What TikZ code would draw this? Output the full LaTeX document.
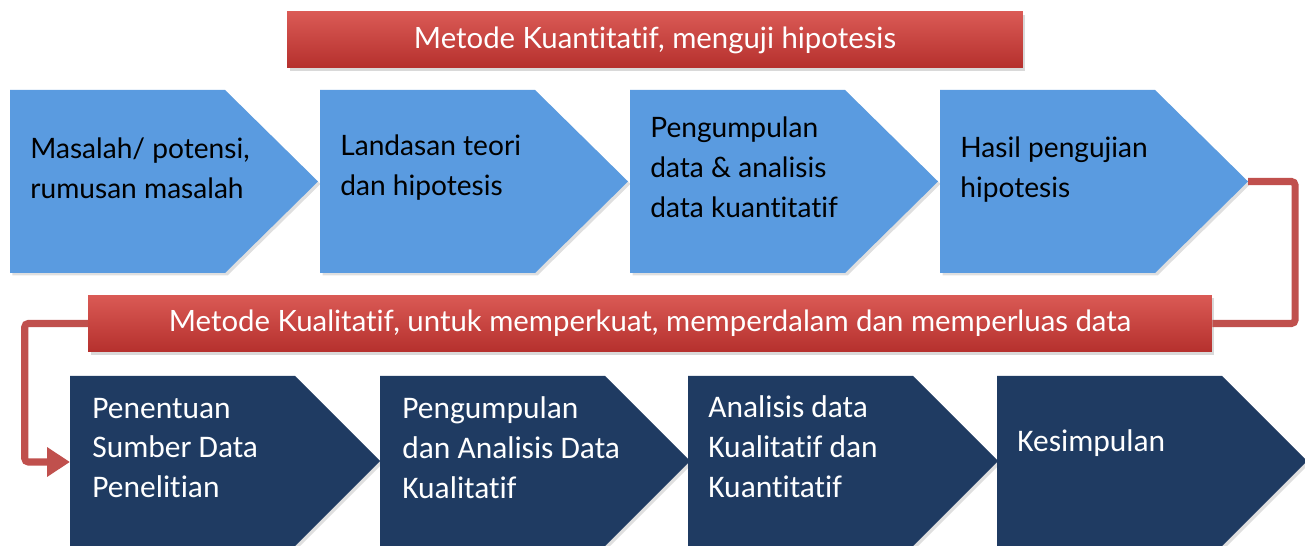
\documentclass[tikz,border=0pt]{standalone}
\usepackage{fontspec}
\setmainfont{Lato}[Ligatures={NoCommon,NoContextual}, Contextuals=NoAlternate]
\newfontfamily\calib{Carlito}[Ligatures={NoCommon,NoContextual}, Contextuals=NoAlternate]
\usetikzlibrary{arrows.meta,shadows}

\definecolor{barTop}{HTML}{DA5A55}
\definecolor{barBot}{HTML}{B5302D}
\definecolor{lineRed}{HTML}{C0504D}
\definecolor{kuanBlue}{HTML}{5A9BE0}
\definecolor{kualBlue}{HTML}{1F3B62}

\tikzset{
  bar/.style={rectangle, top color=barTop, bottom color=barBot, text=white,
    font=\fontsize{16.7}{20}\selectfont,
    drop shadow={opacity=0.3, shadow xshift=0.5mm, shadow yshift=-0.6mm}},
  kuanfill/.style={fill=kuanBlue, drop shadow={opacity=0.25, shadow xshift=0.5mm, shadow yshift=-0.5mm}},
  kualfill/.style={fill=kualBlue, drop shadow={opacity=0.25, shadow xshift=0.5mm, shadow yshift=-0.5mm}},
  steptext/.style={anchor=west, align=left, inner sep=0pt, font=\fontsize{16}{22.7}\selectfont},
  kualtext/.style={steptext, text=white, font=\calib\fontsize{17.9}{22.7}\selectfont},
  conn/.style={lineRed, line width=4pt, rounded corners=2pt},
}

\begin{document}
\begin{tikzpicture}[x=0.02cm, y=-0.02cm]
  \useasboundingbox (0,0) rectangle (1305,546);

  % quantitative row
  \foreach \x/\n in {10/a1,320/a2,630/a3,940/a4}{
    \fill[kuanfill] (\x,90) -- ++(215,0) -- ++(93,91.5) -- ++(-93,91.5) -- ++(-215,0) -- cycle;
    \coordinate (\n-tip) at (\x+308,181.5);
  }
  % qualitative row
  \foreach \x/\n in {70/b1,380/b2,688/b3,997/b4}{
    \fill[kualfill] (\x,376) -- ++(225,0) -- ++(85,85) -- ++(-85,85) -- ++(-225,0) -- cycle;
    \coordinate (\n-in) at (\x,462);
  }

  \node[bar, minimum width=14.72cm, minimum height=1.12cm] (kuan) at (655,40) {Metode Kuantitatif, menguji hipotesis};
  \node[bar, minimum width=22.48cm, minimum height=1.14cm] (kual) at (650,323.5) {Metode Kualitatif, untuk memperkuat, memperdalam dan memperluas data};

  \node[steptext] (t1) at (30,168) {Masalah/ potensi,\\rumusan masalah};
  \node[steptext] (t2) at (340,168) {Landasan teori\\dan hipotesis};
  \node[steptext] (t3) at (650,167) {Pengumpulan\\data \& analisis\\data kuantitatif};
  \node[steptext] (t4) at (960,170) {Hasil pengujian\\hipotesis};

  \node[kualtext] (u1) at (92,448) {Penentuan\\Sumber Data\\Penelitian};
  \node[kualtext] (u2) at (402,448) {Pengumpulan\\dan Analisis Data\\Kualitatif};
  \node[kualtext] (u3) at (708,447) {Analisis data\\Kualitatif dan\\Kuantitatif};
  \node[kualtext] (u4) at (1017,443) {Kesimpulan};

  \draw[conn] (a4-tip) -- ++(47,0) |- (kual.east);
  \draw[conn, -{Triangle[length=13pt, width=16pt]}] (kual.west) -- ++(-63,0) |- (b1-in);
\end{tikzpicture}
\end{document}
